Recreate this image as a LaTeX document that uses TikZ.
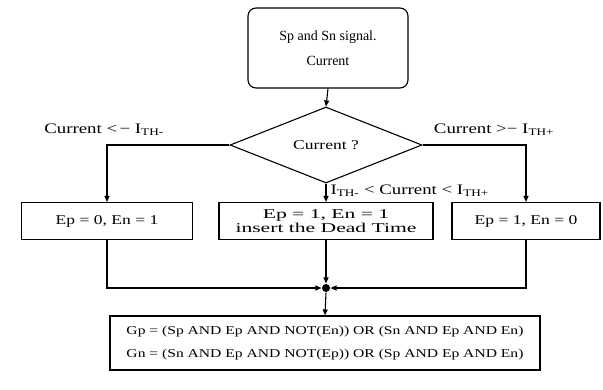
\documentclass[tikz,border=0pt]{standalone}
\usepackage{fontspec}
\setmainfont{Liberation Serif}
\newfontfamily\widefont{Liberation Serif}[FakeStretch=1.3]
\newfontfamily\widerfont{Liberation Serif}[FakeStretch=1.6]
\usetikzlibrary{shapes.geometric, arrows.meta}

\begin{document}
\begin{tikzpicture}[x=1pt, y=-1pt, line width=1.1pt,
		box/.style = {draw, inner sep=2pt, align=center, font=\widefont\fontsize{13.5}{15}\selectfont},
		arr/.style = {-{Triangle[length=6pt, width=5pt]}},
		cond/.style = {inner sep=1pt, font=\widefont\fontsize{14.5}{16}\selectfont}]
		\useasboundingbox (0,0) rectangle (603,389);
		
		\node [box, rounded corners=8pt, minimum width=160pt, minimum height=80pt, font=\fontsize{14}{16}\selectfont] (input) at (328,48) {Sp and Sn signal.\\[9pt]Current};
		\node [box, diamond, inner sep=0pt, minimum width=192pt, minimum height=76pt] (test) at (326,145) {Current ?};
		
		\node [box, minimum width=171pt, minimum height=37pt] (neg) at (107,221) {Ep = 0, En = 1};
		\node [box, minimum width=214pt, minimum height=37pt, font=\widerfont\fontsize{13.5}{14}\selectfont] (dead) at (326,221) {Ep = 1, En = 1\\insert the Dead Time};
		\node [box, minimum width=148pt, minimum height=37pt] (pos) at (526,221) {Ep = 1, En = 0};
		
		\node [circle, fill, inner sep=0pt, minimum size=8pt] (join) at (326,288) {};
		\node [box, minimum width=430pt, minimum height=54pt, font=\widefont\fontsize{12}{23}\selectfont] (gate) at (325,343) {Gp = (Sp AND Ep AND NOT(En)) OR (Sn AND Ep AND En)\\Gn = (Sn AND Ep AND NOT(Ep)) OR (Sp AND Ep AND En)};
		
		% branch labels
		\node [cond] (neglabel) at (104,130) {Current <\,− I\textsubscript{TH-}};
		\node [cond] (poslabel) at (494,130) {Current >− I\textsubscript{TH+}};
		\node [cond, anchor=west] (deadlabel) at (329,191) {I\textsubscript{TH-} < Current < I\textsubscript{TH+}};
		
		\draw [arr] (input.south) -- (test.north);
		\draw [arr] (test.west) -| (neg.north);
		\draw [arr] (test.south) -- (dead.north);
		\draw [arr] (test.east) -| (pos.north);
		
		\draw [arr] (neg.south) |- (join.west);
		\draw [arr] (dead.south) -- (join.north);
		\draw [arr] (pos.south) |- (join.east);
		\draw [arr] (join.south) -- (gate.north);
	\end{tikzpicture}
\end{document}
